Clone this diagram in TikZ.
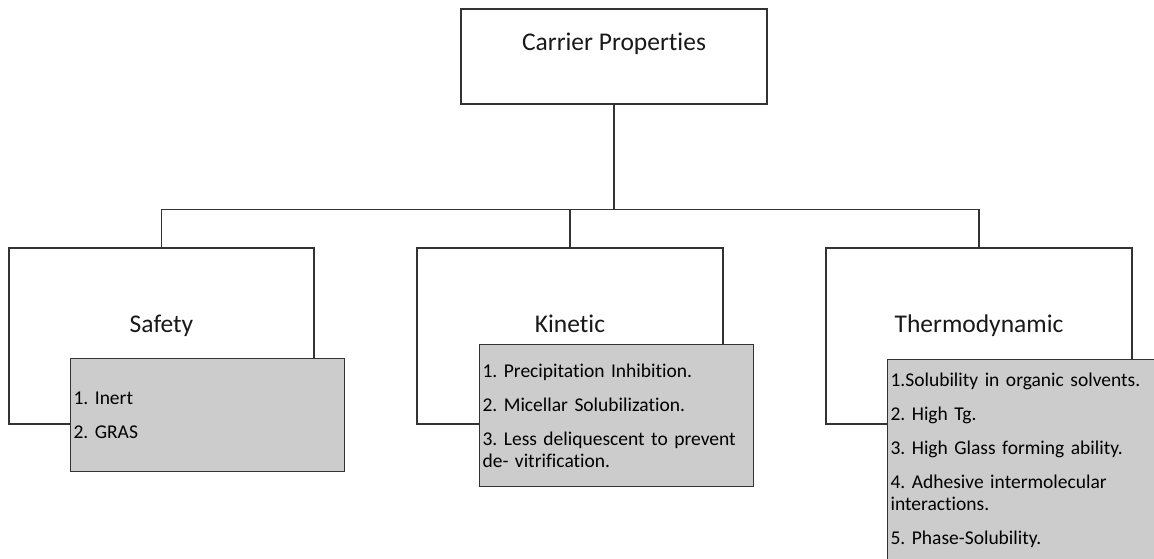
\documentclass[tikz,border=0pt]{standalone}
\usepackage{fontspec}
\setmainfont[Ligatures=NoCommon]{Carlito}

\begin{document}
\begin{tikzpicture}[x=1pt, y=-1pt, line join=miter,
    box/.style={draw=black!80, line width=1.1pt, fill=white, inner sep=0pt},
    listbox/.style={draw=black!80, line width=1.1pt, fill=black!20, anchor=north west,
        text width=268pt, inner xsep=3pt, inner ysep=0pt, align=left,
        font=\fontsize{19.5}{22}\selectfont\frenchspacing},
    head/.style={anchor=base, font=\fontsize{25.5}{30}\selectfont, text=black!90},
    link/.style={draw=black!80, line width=1.1pt}]

  \useasboundingbox (0,0) rectangle (1154,559);
  \clip (0,0) rectangle (1154,559);

  % --- root ---
  \node[box, minimum width=306pt, minimum height=95pt] (carrier) at (614,56.5) {};
  \node[head] (carriertxt) at (614,51) {Carrier Properties};

  % --- three property groups ---
  \node[box, minimum width=305pt, minimum height=176pt] (safety) at (161.5,336) {};
  \node[box, minimum width=306pt, minimum height=176pt] (kinetic) at (570,336) {};
  \node[box, minimum width=306pt, minimum height=176pt] (thermo) at (979,336) {};
  \node[head] (safetytxt) at (161.5,332) {Safety};
  \node[head] (kinetictxt) at (570,332) {Kinetic};
  \node[head] (thermotxt) at (979,332) {Thermodynamic};

  % --- tree connectors ---
  \draw[link] (carrier.south) -- ++(0,105) coordinate (bus);
  \draw[link] (safety.north) |- (bus) -| (thermo.north);
  \draw[link] (kinetic.north) -- (kinetic.north |- bus);

  % --- grey lists, laid over the group boxes ---
  \node[listbox, minimum height=113pt] (safetylist) at (70,358)
       {1. Inert\\[12pt]2. GRAS};
  \node[listbox, minimum height=142pt] (kineticlist) at (479,344)
       {1. Precipitation Inhibition.\\[12pt]2. Micellar Solubilization.\\[12pt]3. Less deliquescent to prevent\\de- vitrification.};
  \node[listbox, minimum height=202pt] (thermolist) at (887,359)
       {1.Solubility in organic solvents.\\[12pt]2. High Tg.\\[12pt]3. High Glass forming ability.\\[12pt]4. Adhesive intermolecular\\interactions.\\[12pt]5. Phase-Solubility.};
\end{tikzpicture}
\end{document}
